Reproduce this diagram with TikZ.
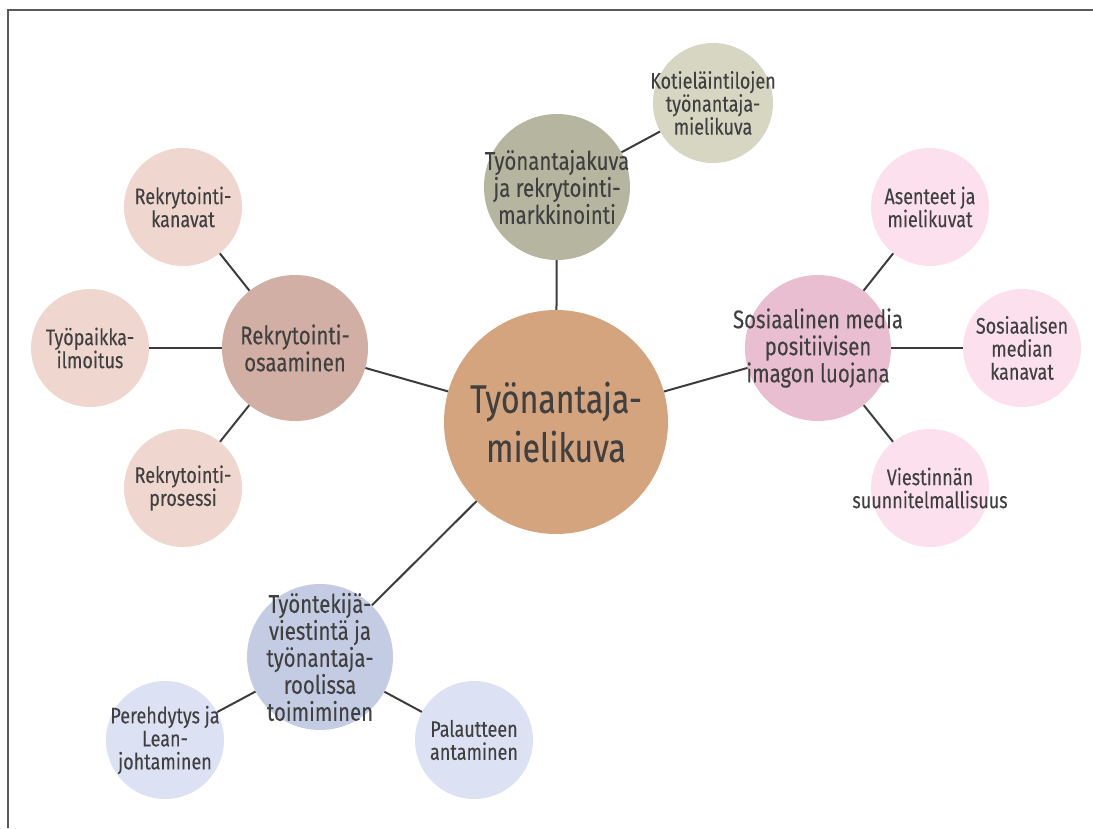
\documentclass[tikz,border=0pt]{standalone}
\usepackage{fontspec}
\setmainfont{Fira Sans}[FakeStretch=0.8, FakeBold=0.12]
\definecolor{ink}{HTML}{404040}
\definecolor{linkgray}{HTML}{3C3C3C}
\definecolor{framegray}{HTML}{5A5A5A}
\definecolor{coreFill}{HTML}{D3A47E}
\definecolor{brandFill}{HTML}{B5B5A0}
\definecolor{brandSat}{HTML}{D6D6C3}
\definecolor{recFill}{HTML}{D2AFA5}
\definecolor{recSat}{HTML}{EFD6CF}
\definecolor{someFill}{HTML}{E8BED0}
\definecolor{someSat}{HTML}{FDE0EE}
\definecolor{staffFill}{HTML}{C3CCE3}
\definecolor{staffSat}{HTML}{DCE2F3}
\begin{document}
\begin{tikzpicture}[x=1pt,y=-1pt,
  bubble/.style={circle, inner sep=0pt, draw=none},
  core/.style={bubble, minimum size=224pt, fill=coreFill},
  hub/.style={bubble, minimum size=146pt},
  sat/.style={bubble, minimum size=118pt},
  link/.style={draw=linkgray, line width=2pt},
  txt/.style={text=ink, align=center, inner sep=0pt},
  bigtxt/.style={txt, font=\fontsize{40}{49}\selectfont},
  hubtxt/.style={txt, font=\fontsize{25.5}{27}\selectfont},
  sattxt/.style={txt, font=\fontsize{22.5}{23}\selectfont}
]
\useasboundingbox (0,0) rectangle (1093,828);
% page frame: top and left rules
\draw[framegray, line width=1.6pt] (1093,10) -- (8,10) -- (8,828);

% bubbles
\node[core] (core) at (556,422) {};
\node[hub, fill=brandFill] (brand) at (557,187) {};
\node[sat, fill=brandSat, minimum size=120pt] (farm) at (713,103) {};

\node[hub, fill=recFill] (rec) at (295,348) {};
\node[sat, fill=recSat] (channels) at (183,207) {};
\node[sat, fill=recSat] (ad) at (90,348) {};
\node[sat, fill=recSat] (process) at (183,488) {};

\node[hub, fill=someFill] (some) at (818,348) {};
\node[sat, fill=someSat] (attitudes) at (930,207) {};
\node[sat, fill=someSat] (somech) at (1022,348) {};
\node[sat, fill=someSat] (planning) at (930,488) {};

\node[hub, fill=staffFill] (staff) at (320,657) {};
\node[sat, fill=staffSat] (onboard) at (165,740) {};
\node[sat, fill=staffSat] (feedback) at (474,740) {};

% connectors
\draw[link] (core) -- (brand);
\draw[link] (brand) -- (farm);
\draw[link] (core) -- (rec);
\draw[link] (rec) -- (channels);
\draw[link] (rec) -- (ad);
\draw[link] (rec) -- (process);
\draw[link] (core) -- (some);
\draw[link] (some) -- (attitudes);
\draw[link] (some) -- (somech);
\draw[link] (some) -- (planning);
\draw[link] (core) -- (staff);
\draw[link] (staff) -- (onboard);
\draw[link] (staff) -- (feedback);

% labels
\node[bigtxt] (core-t) at (core) {Työnantaja-\\mielikuva};
\node[hubtxt] (brand-t) at (brand) {Työnantajakuva\\ja rekrytointi-\\markkinointi};
\node[sattxt] (farm-t) at (farm) {Kotieläintilojen\\työnantaja-\\mielikuva};

\node[hubtxt] (rec-t) at (rec) {Rekrytointi-\\osaaminen};
\node[sattxt] (channels-t) at (channels) {Rekrytointi-\\kanavat};
\node[sattxt] (ad-t) at (ad) {Työpaikka-\\ilmoitus};
\node[sattxt] (process-t) at (process) {Rekrytointi-\\prosessi};

\node[hubtxt] (some-t) at (some) {Sosiaalinen media\\positiivisen\\imagon luojana};
\node[sattxt] (attitudes-t) at (attitudes) {Asenteet ja\\mielikuvat};
\node[sattxt] (somech-t) at (somech) {Sosiaalisen\\median\\kanavat};
\node[sattxt] (planning-t) at (planning) {Viestinnän\\suunnitelmallisuus};

\node[hubtxt] (staff-t) at (staff) {Työntekijä-\\viestintä ja\\työnantaja-\\roolissa\\toimiminen};
\node[sattxt] (onboard-t) at (onboard) {Perehdytys ja\\Lean-\\johtaminen};
\node[sattxt] (feedback-t) at (feedback) {Palautteen\\antaminen};
\end{tikzpicture}
\end{document}
